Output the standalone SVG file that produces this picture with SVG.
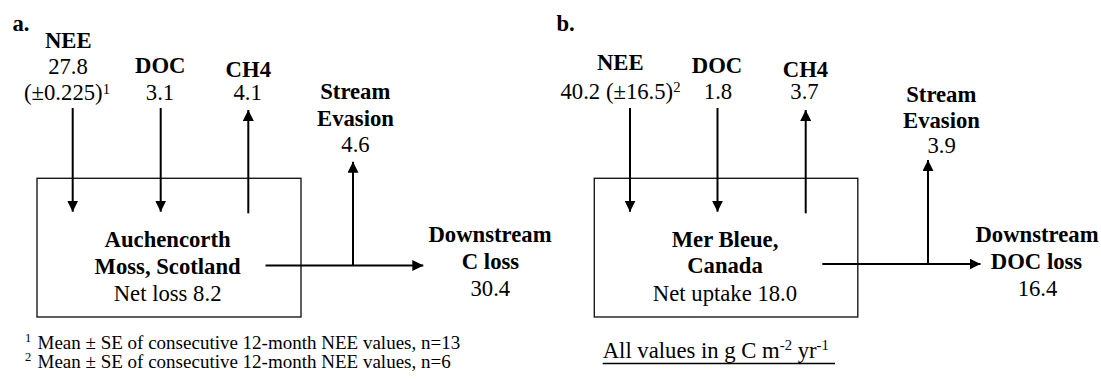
<svg xmlns="http://www.w3.org/2000/svg" width="1101" height="379" viewBox="0 0 1101 379">
  <defs>
    <style>
      text { font-family: 'Liberation Serif', Tinos, 'Times New Roman', Times, 'DejaVu Serif', serif; fill: #000; }
      .t { font-size: 22.7px; }
      .b { font-size: 22.7px; font-weight: bold; }
      .m { text-anchor: middle; }
      .sup { font-size: 14.7px; }
      .fn { font-size: 19px; }
      .fnsup { font-size: 12.5px; }
      .box { fill: none; stroke: #1a1a1a; stroke-width: 1.4; }
      .flow { fill: none; stroke: #000; stroke-width: 2; marker-end: url(#head); }
      .rule { fill: none; stroke: #000; stroke-width: 1.6; }
    </style>
    <marker id="head" markerUnits="userSpaceOnUse" viewBox="0 0 11 11" markerWidth="11" markerHeight="11" refX="11" refY="5.5" orient="auto">
      <path d="M0,0 L11,5.5 L0,11 z" fill="#000"/>
    </marker>
  </defs>

  <rect width="1101" height="379" fill="#fff"/>

  <!-- panel letters -->
  <text class="b" x="12.5" y="30.7">a.</text>
  <text class="b" x="556.5" y="30.7">b.</text>

  <!-- ===== Panel a: Auchencorth Moss ===== -->
  <g id="a-site">
    <rect class="box" x="37" y="178.3" width="264" height="138.7"/>
    <text class="b m" x="167.6" y="246.7">Auchencorth</text>
    <text class="b m" x="167.6" y="274">Moss, Scotland</text>
    <text class="t m" x="167.6" y="301">Net loss 8.2</text>
  </g>
  <g id="a-nee">
    <text class="b m" x="68.3" y="48.3">NEE</text>
    <text class="t m" x="68" y="74">27.8</text>
    <text class="t m" x="67" y="100">(±0.225)<tspan class="sup" dy="-6">1</tspan></text>
  </g>
  <g id="a-doc">
    <text class="b m" x="160.3" y="72.7">DOC</text>
    <text class="t m" x="160" y="100">3.1</text>
  </g>
  <g id="a-ch4">
    <text class="b m" x="248.3" y="76.7">CH4</text>
    <text class="t m" x="247.7" y="100">4.1</text>
  </g>
  <g id="a-evasion">
    <text class="b m" x="355.3" y="99.3">Stream</text>
    <text class="b m" x="355.5" y="126">Evasion</text>
    <text class="t m" x="355.5" y="151.7">4.6</text>
  </g>
  <g id="a-downstream">
    <text class="b m" x="490" y="241.7">Downstream</text>
    <text class="b m" x="490.5" y="269.3">C loss</text>
    <text class="t m" x="490.3" y="295.7">30.4</text>
  </g>

  <!-- ===== Panel b: Mer Bleue ===== -->
  <g id="b-site">
    <rect class="box" x="594.3" y="178.3" width="263.5" height="138.7"/>
    <text class="b m" x="725" y="246.7">Mer Bleue,</text>
    <text class="b m" x="725" y="273.3">Canada</text>
    <text class="t m" x="725" y="300.7">Net uptake 18.0</text>
  </g>
  <g id="b-nee">
    <text class="b m" x="620.3" y="70">NEE</text>
    <text class="t m" x="620.5" y="98.5">40.2 (±16.5)<tspan class="sup" dy="-7">2</tspan></text>
  </g>
  <g id="b-doc">
    <text class="b m" x="717" y="72.7">DOC</text>
    <text class="t m" x="718" y="99.3">1.8</text>
  </g>
  <g id="b-ch4">
    <text class="b m" x="805.5" y="76.7">CH4</text>
    <text class="t m" x="804.5" y="99.3">3.7</text>
  </g>
  <g id="b-evasion">
    <text class="b m" x="941.3" y="101.7">Stream</text>
    <text class="b m" x="941.5" y="127.7">Evasion</text>
    <text class="t m" x="941.7" y="153.3">3.9</text>
  </g>
  <g id="b-downstream">
    <text class="b m" x="1037" y="241.7">Downstream</text>
    <text class="b m" x="1036.5" y="269.3">DOC loss</text>
    <text class="t m" x="1037.5" y="295.7">16.4</text>
  </g>

  <!-- ===== Connectors ===== -->
  <g id="connectors">
    <!-- panel a -->
    <path class="flow" d="M72.7,108 V211.7"/>
    <path class="flow" d="M160.7,108 V211.7"/>
    <path class="flow" d="M248.3,213.3 V110"/>
    <path class="flow" d="M265.5,265.5 H423.3"/>
    <path class="flow" d="M353,265.5 V161.7"/>
    <!-- panel b -->
    <path class="flow" d="M630,108 V211.7"/>
    <path class="flow" d="M717.5,108 V211.7"/>
    <path class="flow" d="M805.7,213.3 V110"/>
    <path class="flow" d="M822.3,264 H980.5"/>
    <path class="flow" d="M928,264 V160"/>
  </g>

  <!-- footnotes and units -->
  <text class="fn"><tspan class="fnsup" x="25" y="342">1</tspan><tspan x="37.5" y="349">Mean ± SE of consecutive 12-month NEE values, n=13</tspan></text>
  <text class="fn"><tspan class="fnsup" x="25" y="361">2</tspan><tspan x="37.5" y="368">Mean ± SE of consecutive 12-month NEE values, n=6</tspan></text>

  <text class="t" x="602.7" y="358.3">All values in g C m<tspan class="sup" dy="-8">-2</tspan><tspan dy="8"> yr</tspan><tspan class="sup" dy="-8">-1</tspan></text>
  <line class="rule" x1="602.7" y1="363.5" x2="835" y2="363.5"/>
</svg>
